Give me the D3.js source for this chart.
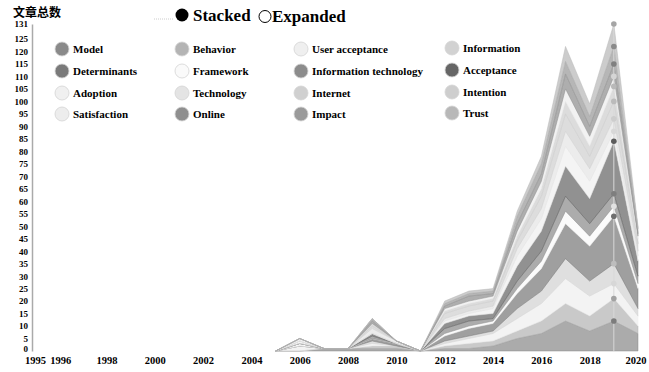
<!DOCTYPE html>
<html>
<head>
<meta charset="utf-8">
<script src="https://cdn.jsdelivr.net/npm/d3@7"></script>
<style>
  body { margin: 0; background: #fff; }
  text { font-family: "Liberation Serif", "Times New Roman", serif; font-weight: bold; }
</style>
</head>
<body>
<script>
var width = 649;
var height = 372;

var years = [2005, 2006, 2007, 2008, 2009, 2010, 2011, 2012, 2013, 2014, 2015, 2016, 2017, 2018, 2019, 2020];
var xTicks = [1995, 1996, 1998, 2000, 2002, 2004, 2006, 2008, 2010, 2012, 2014, 2016, 2018, 2020];
var yTicks = [0, 5, 10, 15, 20, 25, 30, 35, 40, 45, 50, 55, 60, 65, 70, 75, 80, 85, 90, 95, 100, 105, 110, 115, 120, 125, 131];

var seriesNames = ["Model", "Behavior", "User acceptance", "Information",
                   "Determinants", "Framework", "Information technology", "Acceptance",
                   "Adoption", "Technology", "Internet", "Intention",
                   "Satisfaction", "Online", "Impact", "Trust"];
var seriesColors = ["#8a8a8a", "#b4b4b4", "#efefef", "#d2d2d2",
                    "#7a7a7a", "#fafafa", "#8c8c8c", "#666666",
                    "#f0f0f0", "#e4e4e4", "#d0d0d0", "#cecece",
                    "#ededed", "#8f8f8f", "#9a9a9a", "#b8b8b8"];

var model          = [0, 0, 1, 1, 1, 1, 0, 1, 1, 2, 5, 7, 12, 8, 12, 7];
var behavior       = [0, 0, 0, 0, 1, 1, 0, 1, 2, 2, 3, 5, 7, 6, 9, 3];
var userAcceptance = [0, 2, 0, 0, 1, 0, 0, 1, 2, 3, 5, 7, 10, 8, 6, 4];
var information    = [0, 0, 0, 0, 1, 0, 0, 1, 1, 1, 4, 5, 8, 6, 8, 3];
var determinants   = [0, 0, 0, 0, 1, 1, 0, 2, 3, 3, 6, 9, 14, 14, 19, 8];
var framework      = [0, 1, 0, 0, 0, 0, 0, 1, 1, 1, 2, 3, 5, 4, 4, 2];
var infoTechnology = [0, 0, 0, 0, 1, 0, 0, 2, 2, 1, 3, 4, 6, 5, 5, 3];
var acceptance     = [0, 0, 0, 0, 1, 0, 0, 2, 2, 2, 6, 8, 12, 10, 21, 6];
var adoption       = [0, 1, 0, 0, 0, 0, 0, 1, 1, 2, 4, 5, 8, 7, 4, 2];
var technology     = [0, 0, 0, 0, 2, 1, 0, 1, 1, 1, 3, 4, 6, 5, 5, 2];
var internet       = [0, 0, 0, 0, 1, 0, 0, 2, 2, 2, 3, 5, 7, 5, 7, 3];
var intention      = [0, 0, 0, 0, 1, 0, 0, 1, 1, 1, 2, 3, 5, 4, 6, 2];
var satisfaction   = [0, 1, 0, 0, 0, 0, 0, 1, 1, 1, 2, 3, 5, 4, 4, 1];
var online         = [0, 0, 0, 0, 1, 0, 0, 1, 2, 1, 3, 3, 6, 4, 5, 1];
var impact         = [0, 0, 0, 0, 1, 0, 0, 1, 1, 1, 3, 4, 5, 4, 7, 2];
var trust          = [0, 0, 0, 0, 0, 0, 0, 1, 1, 1, 2, 3, 6, 5, 9, 1];

var seriesValues = [model, behavior, userAcceptance, information,
                    determinants, framework, infoTechnology, acceptance,
                    adoption, technology, internet, intention,
                    satisfaction, online, impact, trust];
var hoverYear = 2019;

// table for d3.stack
var table = years.map(function(year, i) {
  var row = { year: year };
  seriesNames.forEach(function(name, j) { row[name] = seriesValues[j][i]; });
  return row;
});

var stacked = d3.stack().keys(seriesNames)(table);

var x = d3.scaleLinear().domain([1995, 2020]).range([34, 638]);
var y = d3.scaleLinear().domain([0, 131]).range([351, 24]);

var svg = d3.select("body")
  .append("svg")
  .attr("width", width)
  .attr("height", height);

var area = d3.area()
  .x(function(d) { return x(d.data.year); })
  .y0(function(d) { return y(d[0]); })
  .y1(function(d) { return y(d[1]); });

svg.append("g")
  .selectAll("path")
  .data(stacked)
  .enter()
  .append("path")
  .attr("d", area)
  .attr("fill", function(d, i) { return seriesColors[i]; })
  .attr("fill-opacity", 0.72)
  .attr("stroke", function(d, i) { return seriesColors[i]; })
  .attr("stroke-opacity", 0.8)
  .attr("stroke-width", 0.6);

// y axis
var yAxis = svg.append("g")
  .attr("transform", "translate(32,0)")
  .call(d3.axisLeft(y).tickValues(yTicks).tickSize(0).tickPadding(4));
yAxis.select(".domain").attr("stroke", "#aaa").attr("stroke-width", 1.5);
yAxis.selectAll("text")
  .attr("font-size", "9px")
  .attr("fill", "#000")
  .attr("dy", function(d) { return d === 0 ? "0.1em" : "0.32em"; });

// x axis
var xAxis = svg.append("g")
  .attr("transform", "translate(0,353)")
  .call(d3.axisBottom(x).tickValues(xTicks).tickFormat(d3.format("d")).tickSize(0).tickPadding(4));
xAxis.select(".domain").remove();
xAxis.selectAll("text")
  .attr("font-size", "10.5px")
  .attr("fill", "#000")
  .attr("text-anchor", function(d) { return d === 2020 ? "end" : "middle"; })
  .attr("dx", function(d) { return d === 2020 ? "8px" : d === 1995 ? "1px" : d === 1996 ? "2px" : 0; });

// guideline at hover year
var hi = years.indexOf(hoverYear);
svg.append("line")
  .attr("x1", x(hoverYear)).attr("x2", x(hoverYear))
  .attr("y1", y(0)).attr("y2", y(stacked[stacked.length - 1][hi][1]))
  .attr("stroke", "#d8d8d8")
  .attr("stroke-width", 1);

svg.append("g")
  .selectAll("circle")
  .data(stacked)
  .enter()
  .append("circle")
  .attr("cx", x(hoverYear))
  .attr("cy", function(d) { return y(d[hi][1]); })
  .attr("r", 2.8)
  .attr("fill", function(d, i) { return d3.color(seriesColors[i]).darker(0.3); });

// title
svg.append("text")
  .attr("x", 13)
  .attr("y", 17)
  .style("font-family", "'Noto Sans CJK SC', sans-serif")
  .attr("font-size", "12px")
  .text("文章总数");

// stacked / expanded controls
svg.append("line")
  .attr("x1", 154).attr("x2", 173).attr("y1", 19).attr("y2", 19)
  .attr("stroke", "#ccc").attr("stroke-dasharray", "1,1");
svg.append("circle").attr("cx", 182).attr("cy", 15).attr("r", 6.5).attr("fill", "#000");
svg.append("text").attr("x", 193).attr("y", 21).attr("font-size", "17px").text("Stacked");
svg.append("circle").attr("cx", 265).attr("cy", 16.5).attr("r", 6)
  .attr("fill", "#fff").attr("stroke", "#000").attr("stroke-width", 1);
svg.append("text").attr("x", 272).attr("y", 22).attr("font-size", "17px").text("Expanded");

// legend
var legendCols = [62, 182, 301, 452];
var legendRows = [49, 71, 93, 114];

var legend = svg.append("g")
  .selectAll("g")
  .data(seriesNames)
  .enter()
  .append("g")
  .attr("transform", function(d, i) {
    var col = i % 4, row = Math.floor(i / 4);
    return "translate(" + legendCols[col] + "," + (legendRows[row] - (col === 3 ? 1 : 0)) + ")";
  });

legend.append("circle")
  .attr("r", 7)
  .attr("fill", function(d, i) { return seriesColors[i]; })
  .attr("stroke", "#d4d4d4")
  .attr("stroke-width", 0.8);

legend.append("text")
  .attr("x", 11)
  .attr("y", 4)
  .attr("font-size", "11px")
  .text(function(d) { return d; });
</script>
</body>
</html>
